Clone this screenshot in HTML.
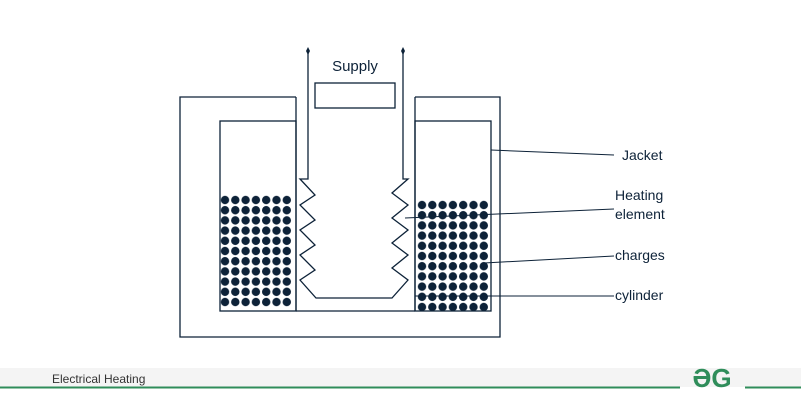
<!DOCTYPE html>
<html><head><style>
body{margin:0;width:801px;height:400px;background:#fff;overflow:hidden;font-family:"Liberation Sans",sans-serif}
</style></head><body>
<svg width="801" height="400" xmlns="http://www.w3.org/2000/svg">
<defs>
<pattern id="pl" x="219.85" y="194.9" width="10.3" height="10.2" patternUnits="userSpaceOnUse">
<circle cx="5.15" cy="5.1" r="4.2" fill="#0d2238"/></pattern>
<pattern id="pr" x="416.85" y="199.9" width="10.3" height="10.2" patternUnits="userSpaceOnUse">
<circle cx="5.15" cy="5.1" r="4.2" fill="#0d2238"/></pattern>
</defs>
<rect x="0" y="368" width="801" height="19" fill="#f4f4f4"/>
<text x="52" y="383" font-size="12" fill="#333">Electrical Heating</text>
<line x1="0" y1="387.5" x2="680" y2="387.5" stroke="#2f8d5a" stroke-width="2"/>
<line x1="745" y1="387.5" x2="801" y2="387.5" stroke="#2f8d5a" stroke-width="2"/>
<text x="712" y="387" font-size="26" font-weight="bold" fill="#2f8d5a" text-anchor="middle">ƏG</text>
<rect x="220" y="195" width="72" height="112" fill="url(#pl)"/>
<rect x="417" y="200" width="72" height="111" fill="url(#pr)"/>
<g fill="none" stroke="#0d2238" stroke-width="1.3">
<polyline points="296,97 180,97 180,337 500,337 500,97 415,97"/>
<polyline points="296,97 296,311"/>
<polyline points="415,97 415,311"/>
<rect x="220" y="121" width="76" height="190"/>
<rect x="415" y="121" width="76" height="190"/>
<rect x="315" y="83" width="80" height="25"/>
<line x1="296" y1="311" x2="415" y2="311"/>
<polyline points="308,52 308,179 300,179 315,195 300,205 315,220 300,230 315,245 300,255 315,270 300,280 316,298 392,298 408,280 392,268 408,255 392,243 408,230 392,218 408,205 392,193 408,179 403,179 403,52"/>
</g>
<path d="M308,47 l2,4 -2,4 -2,-4z M403,47 l2,4 -2,4 -2,-4z" fill="#0d2238"/>
<g stroke="#0d2238" stroke-width="1">
<line x1="491" y1="150" x2="614" y2="155"/>
<line x1="405" y1="218" x2="614" y2="209"/>
<line x1="484" y1="263" x2="614" y2="256"/>
<line x1="415" y1="296" x2="614" y2="296"/>
</g>
<text x="355" y="71" font-size="15" fill="#0d2238" text-anchor="middle">Supply</text>
<g font-size="14" fill="#0d2238">
<text x="622" y="160">Jacket</text>
<text x="615" y="200">Heating</text>
<text x="615" y="219">element</text>
<text x="615" y="260">charges</text>
<text x="615" y="300">cylinder</text>
</g>
</svg>
</body></html>
